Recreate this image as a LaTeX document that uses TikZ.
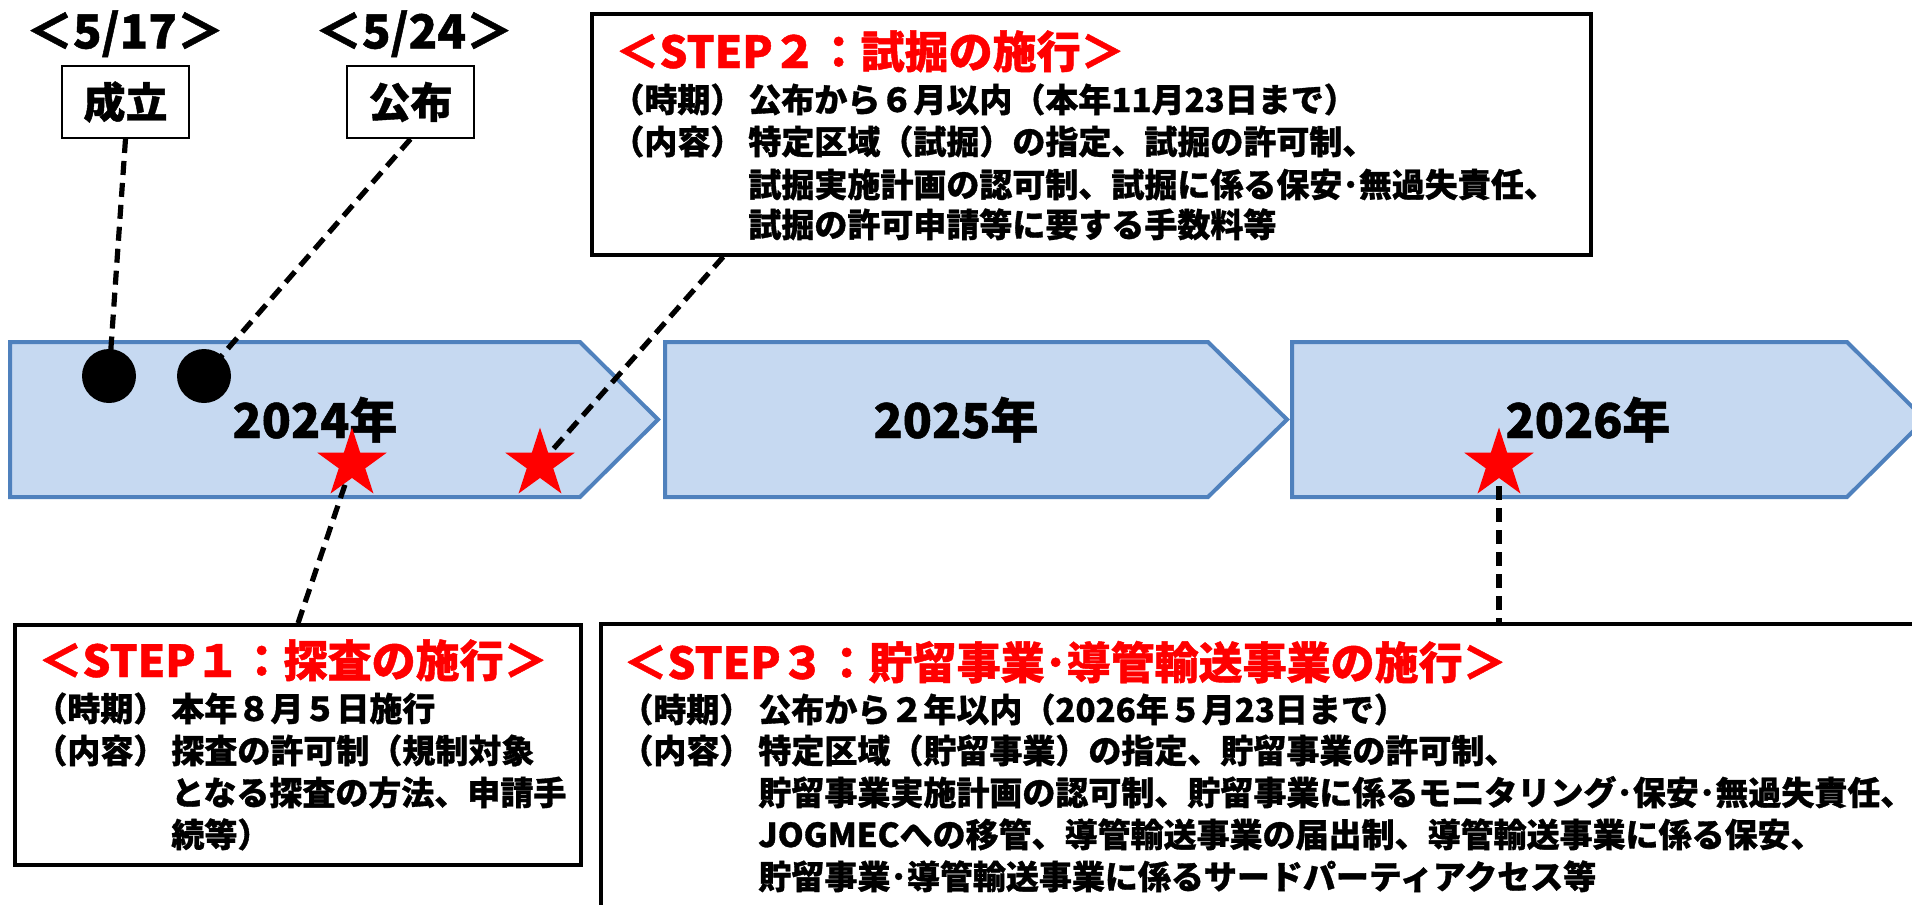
\documentclass[tikz,border=0pt]{standalone}
\usepackage{fontspec}
\setmainfont{Noto Sans CJK JP}[BoldFeatures={FakeBold=1}]
\usetikzlibrary{shapes.geometric}
\definecolor{arrowfill}{HTML}{C6D9F1}
\definecolor{arrowline}{HTML}{4F81BD}
\begin{document}
\begin{tikzpicture}[x=0.5pt,y=-0.5pt,
 band/.style={fill=arrowfill, draw=arrowline, line width=2pt},
 lead/.style={draw=black, line width=2.6pt, dash pattern=on 7pt off 4pt},
 dot/.style={circle, fill=black, minimum size=27pt, inner sep=0pt},
 redstar/.style={star, star points=5, star point ratio=2.618, fill=red, minimum size=36.5pt, inner sep=0pt},
 stepbox/.style={draw=black, fill=white, line width=1.75pt, inner sep=0pt},
 datebox/.style={draw=black, fill=white, line width=1pt, minimum width=63.5pt, minimum height=36pt, inner sep=0pt, font=\fontsize{21pt}{21pt}\selectfont\bfseries},
 datelbl/.style={inner sep=0pt, anchor=base, font=\fontsize{23.5pt}{23.5pt}\selectfont\bfseries},
 yearlbl/.style={inner sep=0pt, anchor=base, font=\fontsize{24pt}{24pt}\selectfont\bfseries},
 ttl/.style={inner sep=0pt, anchor=base west, text=red, font=\fontsize{22pt}{22pt}\selectfont\bfseries},
 body/.style={inner sep=0pt, anchor=base west, font=\fontsize{16.5pt}{16.5pt}\selectfont\bfseries},
]
\useasboundingbox (0,0) rectangle (1912,905);
\clip (0,0) rectangle (1912,905);
\fill[white] (0,0) rectangle (1912,905);
% year bands
\path[band] (10,342) -- (580,342) -- (658,419.5) -- (580,497) -- (10,497) -- cycle;
\path[band] (665,342) -- (1208,342) -- (1287,419.5) -- (1208,497) -- (665,497) -- cycle;
\path[band] (1292,342) -- (1847,342) -- (1925,419.5) -- (1847,497) -- (1292,497) -- cycle;
\node[yearlbl] (y24) at (315,438) {2024年};
\node[yearlbl] (y25) at (956,438) {2025年};
\node[yearlbl] (y26) at (1588,438) {2026年};
% dates
\node[datelbl] (d1) at (125,48.5) {＜5/17＞};
\node[datelbl] (d2) at (414,48.5) {＜5/24＞};
\node[datebox] (seiritsu) at (125.5,102) {成立};
\node[datebox] (kofu) at (410.5,102) {公布};
% step boxes
\node[stepbox, minimum width=499.5pt, minimum height=120.5pt] (step2) at (1091.5,134.5) {};
\node[stepbox, minimum width=283pt, minimum height=120pt] (step1) at (298,745) {};
\node[stepbox, minimum width=664.5pt, minimum height=153pt] (step3) at (1265.5,777) {};
% markers
\coordinate (c1) at (109,376);
\coordinate (c2) at (204,376);
\coordinate (s1) at (352,464);
\coordinate (s2) at (540,464);
\coordinate (s3) at (1499,464);
\draw[lead] (seiritsu.south) -- (c1);
\draw[lead] (kofu.south) -- (c2);
\draw[lead] ([xshift=66.5pt]step2.south west) -- (s2);
\draw[lead] (s1) -- (step1.north);
\draw[lead] (s3) -- (s3 |- step3.north);
\node[dot] (m1) at (c1) {};
\node[dot] (m2) at (c2) {};
\node[redstar] (r1) at (s1) {};
\node[redstar] (r2) at (s2) {};
\node[redstar] (r3) at (s3) {};
% STEP 2 text
\node[ttl] (t2) at (615,68) {＜STEP２：試掘の施行＞};
\node[body] (t2a) at (611,112) {（時期）};
\node[body] (t2b) at (748,112) {公布から６月以内（本年11月23日まで）};
\node[body] (t2c) at (611,154) {（内容）};
\node[body] (t2d) at (748,154) {特定区域（試掘）の指定、試掘の許可制、};
\node[body] (t2e) at (748,197) {試掘実施計画の認可制、試掘に係る保安･無過失責任、};
\node[body] (t2f) at (748,237) {試掘の許可申請等に要する手数料等};
% STEP 1 text
\node[ttl] (t1) at (38,677) {＜STEP１：探査の施行＞};
\node[body] (t1a) at (34,721) {（時期）};
\node[body] (t1b) at (171,721) {本年８月５日施行};
\node[body] (t1c) at (34,763) {（内容）};
\node[body] (t1d) at (171,763) {探査の許可制（規制対象};
\node[body] (t1e) at (171,805) {となる探査の方法、申請手};
\node[body] (t1f) at (171,847) {続等）};
% STEP 3 text
\node[ttl] (t3) at (623,679) {＜STEP３：貯留事業･導管輸送事業の施行＞};
\node[body] (t3a) at (620,722) {（時期）};
\node[body] (t3b) at (758,722) {公布から２年以内（2026年５月23日まで）};
\node[body] (t3c) at (620,763) {（内容）};
\node[body] (t3d) at (758,763) {特定区域（貯留事業）の指定、貯留事業の許可制、};
\node[body] (t3e) at (758,805) {貯留事業実施計画の認可制、貯留事業に係るモニタリング･保安･無過失責任、};
\node[body] (t3f) at (758,847) {JOGMECへの移管、導管輸送事業の届出制、導管輸送事業に係る保安、};
\node[body] (t3g) at (758,889) {貯留事業･導管輸送事業に係るサードパーティアクセス等};
\end{tikzpicture}
\end{document}
